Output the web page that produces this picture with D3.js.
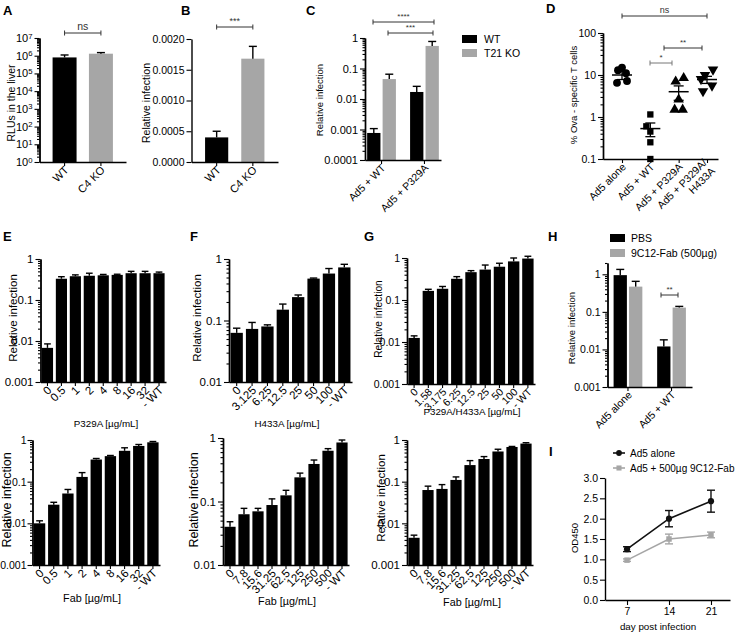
<!DOCTYPE html>
<html><head><meta charset="utf-8">
<script src="https://cdn.jsdelivr.net/npm/d3@7"></script>
<style>body{margin:0;background:#fff}</style>
</head><body><script>
// ================= DATA =================
const A_categories = ["WT", "C4 KO"];
const A_values = [8e5, 1.3e6];
const A_errors = [3e5, 2e5];
const A_yTicks = [1, 10, 100, 1e3, 1e4, 1e5, 1e6, 1e7];

const B_categories = ["WT", "C4 KO"];
const B_values = [0.0004, 0.00168];
const B_errors = [0.0001, 0.0002];
const B_yTicks = [0, 0.0005, 0.001, 0.0015, 0.002];
const B_yTickLabels = ["0.0000", "0.0005", "0.0010", "0.0015", "0.0020"];

const C_categories = ["Ad5 + WT", "Ad5 + P329A"];
const C_series = ["WT", "T21 KO"];
const C_WT = [0.00077, 0.017];
const C_WT_err = [0.0003, 0.009];
const C_T21 = [0.045, 0.55];
const C_T21_err = [0.02, 0.22];
const C_yTicks = [0.0001, 0.001, 0.01, 0.1, 1];
const C_yTickLabels = ["0.0001", "0.001", "0.01", "0.1", "1"];

const D_categories = ["Ad5 alone", "Ad5 + WT", "Ad5 + P329A", "Ad5 + P329A/|H433A"];
const D_alone = [13, 11, 15, 6.5, 7.2];
const D_wt = [1.15, 0.6, 0.45, 0.25, 0.1];
const D_p329a = [7, 8.5, 2.6, 1.5, 1.5];
const D_double = [8, 13.4, 10, 5.6, 4.1];
const D_means = [10, 0.53, 4.0, 7.8];
const D_sems = [2.2, 0.19, 1.5, 1.5];
const D_yTicks = [0.1, 1, 10, 100];
const D_yTickLabels = ["0.1", "1", "10", "100"];

const E1_categories = ["0", "0.5", "1", "2", "4", "8", "16", "32", "- WT"];
const E1_values = [0.0068, 0.33, 0.38, 0.39, 0.40, 0.41, 0.45, 0.45, 0.45];
const E1_errors = [0.0017, 0.04, 0.03, 0.06, 0.02, 0.015, 0.05, 0.05, 0.03];
const E2_categories = ["0", "0.5", "1", "2", "4", "8", "16", "32", "- WT"];
const E2_values = [0.010, 0.028, 0.052, 0.13, 0.34, 0.41, 0.55, 0.72, 0.88];
const E2_errors = [0.0015, 0.004, 0.013, 0.035, 0.02, 0.015, 0.1, 0.06, 0.04];
const F1_categories = ["0", "3.125", "6.25", "12.5", "25", "50", "100", "- WT"];
const F1_values = [0.063, 0.073, 0.080, 0.15, 0.24, 0.48, 0.58, 0.73];
const F1_errors = [0.012, 0.02, 0.005, 0.035, 0.02, 0.01, 0.12, 0.09];
const F2_categories = ["0", "7.8", "15.6", "31.25", "62.5", "125", "250", "500", "- WT"];
const F2_values = [0.040, 0.063, 0.070, 0.088, 0.125, 0.24, 0.39, 0.63, 0.85];
const F2_errors = [0.008, 0.015, 0.008, 0.022, 0.025, 0.04, 0.06, 0.05, 0.08];
const G1_categories = ["0", "1.58", "3.175", "6.25", "12.5", "25", "50", "100", "- WT"];
const G1_values = [0.0125, 0.165, 0.185, 0.32, 0.46, 0.53, 0.62, 0.83, 0.97];
const G1_errors = [0.0015, 0.015, 0.025, 0.04, 0.04, 0.15, 0.13, 0.17, 0.13];
const G2_categories = ["0", "7.8", "15.6", "31.25", "62.5", "125", "250", "500", "- WT"];
const G2_values = [0.0045, 0.063, 0.067, 0.11, 0.25, 0.35, 0.53, 0.68, 0.82];
const G2_errors = [0.0007, 0.015, 0.018, 0.02, 0.07, 0.05, 0.07, 0.02, 0.04];
const LOG_TICKS_3 = [0.001, 0.01, 0.1, 1];
const LOG_TICKS_2 = [0.01, 0.1, 1];

const H_categories = ["Ad5 alone", "Ad5 + WT"];
const H_series = ["PBS", "9C12-Fab (500µg)"];
const H_PBS = [0.95, 0.012];
const H_PBS_err = [0.4, 0.006];
const H_Fab = [0.47, 0.13];
const H_Fab_err = [0.18, 0.01];

const I_days = [7, 14, 21];
const I_series = ["Ad5 alone", "Ad5 + 500µg 9C12-Fab"];
const I_ad5 = [1.25, 2.0, 2.43];
const I_ad5_err = [0.06, 0.2, 0.27];
const I_fab = [0.98, 1.5, 1.6];
const I_fab_err = [0.03, 0.12, 0.07];
const I_yTicks = [0, 0.5, 1, 1.5, 2, 2.5, 3];

// ================= DRAWING =================
const FONT = '"Liberation Sans", Arial, Helvetica, sans-serif';
const BLACK = "#000", GRAY = "#a6a6a6";
const svg = d3.select("body").append("svg").attr("width", 739).attr("height", 633)
  .style("font-family", FONT);

function styleAxis(g, fs) {
  g.attr("font-family", null).attr("font-size", null);
  g.selectAll("path.domain").attr("stroke", BLACK).attr("stroke-width", 1.4);
  g.selectAll(".tick line").attr("stroke", BLACK).attr("stroke-width", 1.1);
  g.selectAll(".tick text").attr("fill", BLACK).style("font-family", FONT).style("font-size", fs + "px");
}
function txt(x, y, s, o = {}) {
  const t = svg.append("text").attr("x", x).attr("y", y).text(s)
    .style("font-size", (o.size || 10) + "px").attr("fill", o.fill || BLACK)
    .attr("text-anchor", o.anchor || "start").style("font-weight", o.weight || "normal");
  if (o.rotate) t.attr("transform", `rotate(${o.rotate},${x},${y})`);
  return t;
}
function panelLabel(x, y, s) { txt(x, y, s, {size: 13, weight: "bold"}); }
function yTitle(x, y, s, size) { txt(x, y, s, {size, anchor: "middle", rotate: -90}).attr("dy", "0.35em"); }

function logYAxis(y, x0, majors, labels, fs, supers, pad = 2) {
  const dom = y.domain();
  const minors = [];
  majors.forEach(m => { for (let k = 2; k <= 9; k++) { const v = k * m; if (v <= dom[1] * 1.0001 && v >= dom[0]) minors.push(v); } });
  const gm = svg.append("g").attr("transform", `translate(${x0},0)`)
    .call(d3.axisLeft(y).tickValues(minors).tickSize(2.5).tickFormat("").tickSizeOuter(0));
  styleAxis(gm, fs);
  const g = svg.append("g").attr("transform", `translate(${x0},0)`)
    .call(d3.axisLeft(y).tickValues(majors).tickSize(5).tickPadding(pad).tickSizeOuter(0)
      .tickFormat((d, i) => supers ? "" : labels[i]));
  styleAxis(g, fs);
  if (supers) {
    g.selectAll(".tick text").each(function (d, i) {
      const t = d3.select(this);
      t.text("10");
      t.append("tspan").attr("dy", "-0.45em").style("font-size", (fs * 0.7) + "px").text(Math.round(Math.log10(d)));
    });
  }
  return g;
}
function rotLabel(cx, yy, c, fs) {
  const lines = c.split("|");
  const t = svg.append("text").attr("text-anchor", "end").style("font-size", fs + "px")
    .attr("transform", `translate(${cx},${yy}) rotate(-45)`);
  lines.forEach((ln, i) => {
    t.append("tspan").attr("x", 0).attr("dy", i === 0 ? (0.35 - 0.55 * (lines.length - 1)) + "em" : "1.1em").text(ln);
  });
}
function bandXAxis(x, yBot, cats, fs, dx = 2, dy = 6) {
  const g = svg.append("g").attr("transform", `translate(0,${yBot})`)
    .call(d3.axisBottom(x).tickSize(4).tickFormat("").tickSizeOuter(0));
  styleAxis(g, fs);
  cats.forEach(c => rotLabel(x(c) + x.bandwidth() / 2 + dx, yBot + dy, c, fs));
}
function drawBars(x, y, cats, vals, errs, color, bw, off = 0) {
  const yb = y.range()[0];
  cats.forEach((c, i) => {
    const bx = x(c) + off, v = vals[i], e = errs[i];
    svg.append("rect").attr("x", bx).attr("y", y(v)).attr("width", bw).attr("height", yb - y(v)).attr("fill", color);
    const cx = bx + bw / 2, cw = Math.min(bw * 0.6, 8);
    svg.append("line").attr("x1", cx).attr("x2", cx).attr("y1", y(v)).attr("y2", y(v + e)).attr("stroke", BLACK).attr("stroke-width", 1.4);
    svg.append("line").attr("x1", cx - cw / 2).attr("x2", cx + cw / 2).attr("y1", y(v + e)).attr("y2", y(v + e)).attr("stroke", BLACK).attr("stroke-width", 1.4);
  });
}
function bracket(x1, x2, yy, label, fs = 9, color = "#333") {
  svg.append("line").attr("x1", x1).attr("x2", x2).attr("y1", yy).attr("y2", yy).attr("stroke", color).attr("stroke-width", 1);
  [x1, x2].forEach(xx => svg.append("line").attr("x1", xx).attr("x2", xx).attr("y1", yy - 2.5).attr("y2", yy + 2.5).attr("stroke", color).attr("stroke-width", 1));
  txt((x1 + x2) / 2, yy - 3, label, {size: fs, anchor: "middle", fill: "#333"});
}

function simpleLogBarPanel(cfg, cats, vals, errs, majors) {
  const y = d3.scaleLog().domain(cfg.domain).range([cfg.yBot, cfg.yTop]);
  const x = d3.scaleBand().domain(cats).range([cfg.x0, cfg.x1]).paddingInner(0.2).paddingOuter(0.1);
  drawBars(x, y, cats, vals, errs, BLACK, x.bandwidth());
  logYAxis(y, cfg.x0, majors, majors.map(String), cfg.yfs || cfg.fs, false, cfg.pad || 2);
  bandXAxis(x, cfg.yBot, cats, cfg.fs, 2, 6);
  return {x, y};
}

// ---------- A ----------
{
  panelLabel(3, 15, "A");
  const y = d3.scaleLog().domain([1, 1e7]).range([162, 38]);
  const x = d3.scaleBand().domain(A_categories).range([39.5, 126]).paddingInner(0.34).paddingOuter(0.36);
  A_categories.forEach((c, i) => drawBars(x, y, [c], [A_values[i]], [A_errors[i]], i ? GRAY : BLACK, x.bandwidth()));
  logYAxis(y, 39.5, A_yTicks, null, 11, true);
  bandXAxis(x, 162, A_categories, 11);
  yTitle(11, 103, "RLUs in the liver", 10.5);
  bracket(x("WT") + x.bandwidth() / 2, x("C4 KO") + x.bandwidth() / 2, 33, "ns", 10.5);
}
// ---------- B ----------
{
  panelLabel(181, 15, "B");
  const y = d3.scaleLinear().domain([0, 0.002]).range([162, 39]);
  const x = d3.scaleBand().domain(B_categories).range([191.5, 278]).paddingInner(0.36).paddingOuter(0.375);
  B_categories.forEach((c, i) => drawBars(x, y, [c], [B_values[i]], [B_errors[i]], i ? GRAY : BLACK, x.bandwidth()));
  const g = svg.append("g").attr("transform", "translate(191.5,0)")
    .call(d3.axisLeft(y).tickValues(B_yTicks).tickSize(5).tickPadding(2).tickSizeOuter(0).tickFormat((d, i) => B_yTickLabels[i]));
  styleAxis(g, 10.5);
  bandXAxis(x, 162, B_categories, 11);
  yTitle(146, 103, "Relative infection", 10.5);
  bracket(x("WT") + x.bandwidth() / 2, x("C4 KO") + x.bandwidth() / 2, 27, "***", 9);
}
// ---------- C ----------
{
  panelLabel(306, 15, "C");
  const y = d3.scaleLog().domain([1e-4, 1]).range([160, 38]);
  const x = d3.scaleBand().domain(C_categories).range([365, 441]).paddingInner(0.33).paddingOuter(0.05);
  const xs = d3.scaleBand().domain(C_series).range([0, x.bandwidth()]).paddingInner(0.14);
  drawBars(x, y, C_categories, C_WT, C_WT_err, BLACK, xs.bandwidth(), xs("WT"));
  drawBars(x, y, C_categories, C_T21, C_T21_err, GRAY, xs.bandwidth(), xs("T21 KO"));
  logYAxis(y, 365, C_yTicks, C_yTickLabels, 11);
  bandXAxis(x, 160, C_categories, 10.5);
  yTitle(320, 100, "Relative infection", 9.5);
  bracket(373, 434, 22, "****", 8);
  bracket(388, 433, 33, "***", 8);
  [[BLACK, "WT", 35], [GRAY, "T21 KO", 49]].forEach(([col, s, yy]) => {
    svg.append("rect").attr("x", 462).attr("y", yy).attr("width", 15).attr("height", 8).attr("fill", col);
    txt(484, yy + 7.5, s, {size: 10.5});
  });
}
// ---------- D ----------
{
  panelLabel(546, 13, "D");
  const y = d3.scaleLog().domain([0.1, 100]).range([159, 33]);
  const x = d3.scalePoint().domain(D_categories).range([622, 707]);
  const xAxisScale = d3.scaleLinear().domain([603, 718]).range([603, 718]);
  const gx = svg.append("g").attr("transform", "translate(0,159)")
    .call(d3.axisBottom(xAxisScale).tickValues(D_categories.map(c => x(c))).tickSize(4).tickFormat("").tickSizeOuter(0));
  styleAxis(gx, 10);
  D_categories.forEach(c => rotLabel(x(c) + 2, 165, c, 10.5));
  logYAxis(y, 603, D_yTicks, D_yTickLabels, 10.5);
  const groups = [D_alone, D_wt, D_p329a, D_double];
  const syms = [d3.symbolCircle, d3.symbolSquare, d3.symbolTriangle, d3.symbolTriangle];
  const offs = [[-4, 4, 0, -5, 5], [0, -4, 0, 0, 0], [-3, 5, 0, -4, 4], [-6, 6, -2, 5, -4]];
  groups.forEach((pts, gi) => {
    const cx = x(D_categories[gi]);
    pts.forEach((v, j) => {
      svg.append("path").attr("d", d3.symbol().type(syms[gi]).size(gi === 1 ? 40 : 48)())
        .attr("transform", `translate(${cx + offs[gi][j]},${y(v)})${gi === 3 ? " rotate(180)" : ""}`).attr("fill", BLACK);
    });
    const m = D_means[gi], s = D_sems[gi];
    svg.append("line").attr("x1", cx - 10).attr("x2", cx + 10).attr("y1", y(m)).attr("y2", y(m)).attr("stroke", BLACK).attr("stroke-width", 1.5);
    svg.append("line").attr("x1", cx).attr("x2", cx).attr("y1", y(m - s)).attr("y2", y(m + s)).attr("stroke", BLACK).attr("stroke-width", 1.3);
    [m - s, m + s].forEach(v => svg.append("line").attr("x1", cx - 5).attr("x2", cx + 5).attr("y1", y(v)).attr("y2", y(v)).attr("stroke", BLACK).attr("stroke-width", 1.3));
  });
  yTitle(574, 95, "% Ova - specific T cells", 9.5);
  bracket(x(D_categories[0]), x(D_categories[3]), 16, "ns", 9);
  bracket(664, 702, 48, "**", 8);
  bracket(650, 672, 63, "*", 8, "#777");
}
// ---------- E / F / G ----------
panelLabel(3, 241, "E");
panelLabel(190, 241, "F");
panelLabel(364, 241, "G");
simpleLogBarPanel({x0: 40.5, x1: 166, yTop: 259, yBot: 382, domain: [0.001, 1], fs: 11.5}, E1_categories, E1_values, E1_errors, LOG_TICKS_3);
yTitle(13, 318, "Relative infection", 11.5);
txt(106, 427, "P329A [µg/mL]", {size: 9.8, anchor: "middle"});
simpleLogBarPanel({x0: 32.5, x1: 160, yTop: 440, yBot: 565, domain: [0.001, 1], fs: 11.5, yfs: 10.5, pad: 1}, E2_categories, E2_values, E2_errors, LOG_TICKS_3);
yTitle(7, 500, "Relative infection", 12.5);
txt(92, 602, "Fab [µg/mL]", {size: 10.8, anchor: "middle"});

simpleLogBarPanel({x0: 229, x1: 352, yTop: 259, yBot: 382, domain: [0.01, 1], fs: 11.5}, F1_categories, F1_values, F1_errors, LOG_TICKS_2);
yTitle(197, 318, "Relative infection", 11.5);
txt(287, 427, "H433A [µg/mL]", {size: 9.8, anchor: "middle"});
simpleLogBarPanel({x0: 223, x1: 349, yTop: 438, yBot: 565, domain: [0.01, 1], fs: 11.5}, F2_categories, F2_values, F2_errors, LOG_TICKS_2);
yTitle(194, 500, "Relative infection", 12.5);
txt(287, 605, "Fab [µg/mL]", {size: 10.8, anchor: "middle"});

simpleLogBarPanel({x0: 407, x1: 535, yTop: 258, yBot: 384, domain: [0.001, 1], fs: 10.5}, G1_categories, G1_values, G1_errors, LOG_TICKS_3);
yTitle(378, 319, "Relative infection", 10.2);
txt(472, 415, "P329A/H433A [µg/mL]", {size: 9.8, anchor: "middle"});
simpleLogBarPanel({x0: 407, x1: 533, yTop: 440, yBot: 565, domain: [0.001, 1], fs: 11.5}, G2_categories, G2_values, G2_errors, LOG_TICKS_3);
yTitle(381, 498, "Relative infection", 11.5);
txt(472, 606, "Fab [µg/mL]", {size: 10.8, anchor: "middle"});

// ---------- H ----------
{
  panelLabel(548, 241, "H");
  const y = d3.scaleLog().domain([0.001, 2]).range([387, 263]);
  const x = d3.scaleBand().domain(H_categories).range([607.5, 692]).paddingInner(0.34).paddingOuter(0.14);
  const xs = d3.scaleBand().domain(H_series).range([0, x.bandwidth()]).paddingInner(0.14);
  drawBars(x, y, H_categories, H_PBS, H_PBS_err, BLACK, xs.bandwidth(), xs(H_series[0]));
  drawBars(x, y, H_categories, H_Fab, H_Fab_err, GRAY, xs.bandwidth(), xs(H_series[1]));
  logYAxis(y, 607.5, LOG_TICKS_3, LOG_TICKS_3.map(String), 10.5);
  bandXAxis(x, 387, H_categories, 10.5);
  yTitle(572, 328, "Relative infection", 9.5);
  bracket(661, 678, 295, "**", 8);
  [[BLACK, H_series[0], 234], [GRAY, H_series[1], 249]].forEach(([col, s, yy]) => {
    svg.append("rect").attr("x", 610).attr("y", yy).attr("width", 15).attr("height", 8).attr("fill", col);
    txt(631, yy + 7.5, s, {size: 10.5});
  });
}
// ---------- I ----------
{
  panelLabel(549, 456, "I");
  const y = d3.scaleLinear().domain([0, 3]).range([600, 478]);
  const x = d3.scaleLinear().domain([3.33, 24.17]).range([605, 730]);
  const gy = svg.append("g").attr("transform", "translate(605,0)")
    .call(d3.axisLeft(y).tickValues(I_yTicks).tickSize(5).tickPadding(2).tickSizeOuter(0).tickFormat(d3.format(".1f")));
  styleAxis(gy, 10.5);
  const gx = svg.append("g").attr("transform", "translate(0,600)")
    .call(d3.axisBottom(x).tickValues(I_days).tickSize(5).tickPadding(3).tickSizeOuter(0));
  styleAxis(gx, 10.5);
  const series = [[I_fab, I_fab_err, GRAY, d3.symbolSquare], [I_ad5, I_ad5_err, "#111", d3.symbolCircle]];
  series.forEach(([vals, errs, col, sym]) => {
    const line = d3.line().x((d, i) => x(I_days[i])).y(d => y(d));
    svg.append("path").attr("d", line(vals)).attr("fill", "none").attr("stroke", col).attr("stroke-width", 1.6);
    vals.forEach((v, i) => {
      const cx = x(I_days[i]);
      svg.append("line").attr("x1", cx).attr("x2", cx).attr("y1", y(v - errs[i])).attr("y2", y(v + errs[i])).attr("stroke", col).attr("stroke-width", 1.4);
      [v - errs[i], v + errs[i]].forEach(e => svg.append("line").attr("x1", cx - 4).attr("x2", cx + 4).attr("y1", y(e)).attr("y2", y(e)).attr("stroke", col).attr("stroke-width", 1.4));
      svg.append("path").attr("d", d3.symbol().type(sym).size(30)()).attr("transform", `translate(${cx},${y(v)})`).attr("fill", col);
    });
  });
  [["#111", d3.symbolCircle, I_series[0], 453], [GRAY, d3.symbolSquare, I_series[1], 468]].forEach(([col, sym, s, yy]) => {
    svg.append("line").attr("x1", 613).attr("x2", 625).attr("y1", yy).attr("y2", yy).attr("stroke", col).attr("stroke-width", 1.6);
    svg.append("path").attr("d", d3.symbol().type(sym).size(26)()).attr("transform", `translate(619,${yy})`).attr("fill", col);
    txt(630, yy + 3.5, s, {size: 10});
  });
  yTitle(575, 538, "OD450", 9.5);
  txt(658, 630, "day post infection", {size: 9.8, anchor: "middle"});
}
</script></body></html>
